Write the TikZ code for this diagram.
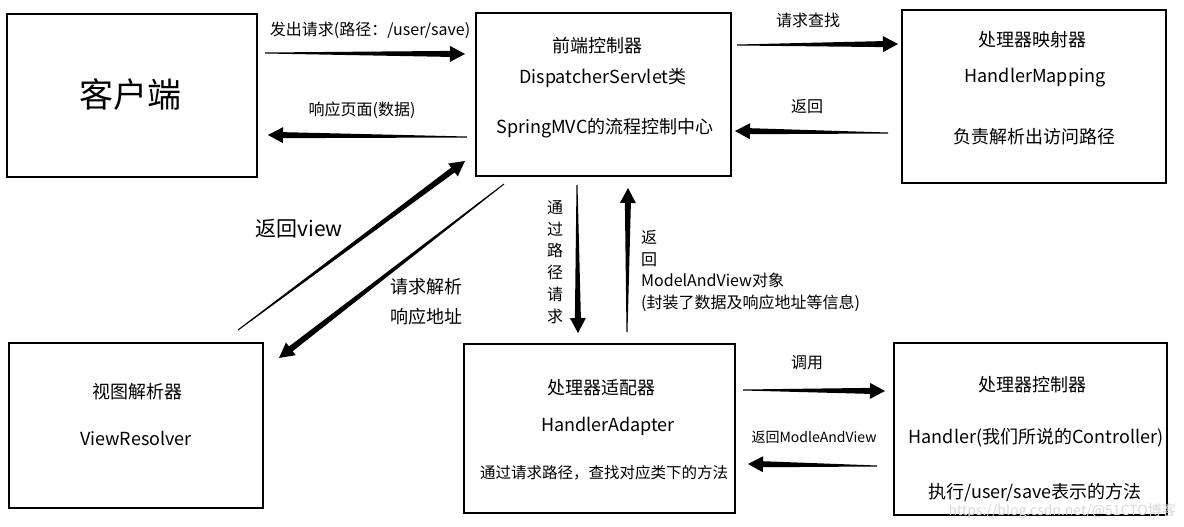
\documentclass[tikz,border=0pt]{standalone}
\usepackage{fontspec}
\setmainfont{Noto Sans CJK SC}
\usetikzlibrary{calc}
\newcommand\tarrow[2]{%
  \path ($(#2)!15pt!(#1)$) coordinate (hb);
  \fill[black] ($(#1)!0.5pt!90:(#2)$) -- ($(hb)!3pt!90:(#2)$) -- ($(hb)!8pt!90:(#2)$) -- (#2)
    -- ($(hb)!8pt!-90:(#2)$) -- ($(hb)!3pt!-90:(#2)$) -- ($(#1)!0.5pt!-90:(#2)$) -- cycle;}
\begin{document}
\begin{tikzpicture}[x=1pt,y=-1pt,
  box/.style={draw, line width=2.6pt, inner sep=0pt},
  lbl/.style={font=\fontsize{16}{20}\selectfont, inner sep=0pt},
  btxt/.style={font=\fontsize{18}{22}\selectfont, inner sep=0pt}]
\useasboundingbox (0,0) rectangle (1184,527);
\fill[white] (0,0) rectangle (1184,527);
% boxes
\node[box, minimum width=250pt, minimum height=163pt] (client) at (132,95.5) {};
\node[box, minimum width=255pt, minimum height=163pt] (front) at (603.5,94.5) {};
\node[box, minimum width=264pt, minimum height=173pt] (mapping) at (1034,96.5) {};
\node[box, minimum width=254pt, minimum height=165pt] (viewres) at (136,425.5) {};
\node[box, minimum width=271pt, minimum height=169pt] (adapter) at (599.5,428.5) {};
\node[box, minimum width=273pt, minimum height=172pt] (handler) at (1030.5,429) {};
% box texts
\node[btxt, font=\fontsize{34}{40}\selectfont] (tclient) at (130,95) {客户端};
\node[btxt] (f1) at (597,46) {前端控制器};
\node[btxt] (f2) at (603,78) {DispatcherServlet类};
\node[btxt] (f3) at (605,128) {SpringMVC的流程控制中心};
\node[btxt] (m1) at (1032,40) {处理器映射器};
\node[btxt] (m2) at (1035,78) {HandlerMapping};
\node[btxt] (m3) at (1034,137) {负责解析出访问路径};
\node[btxt] (v1) at (137,392) {视图解析器};
\node[btxt] (v2) at (136,438) {ViewResolver};
\node[btxt] (d1) at (601,388) {处理器适配器};
\node[btxt] (d2) at (608,426) {HandlerAdapter};
\node[btxt, font=\fontsize{15.5}{18}\selectfont] (d3) at (604,473) {通过请求路径，查找对应类下的方法};
\node[btxt] (h1) at (1032,385) {处理器控制器};
\node[btxt] (h2) at (1036,438) {Handler(我们所说的Controller)};
\node[btxt] (h3) at (1035,492) {执行/user/save表示的方法};
% edge labels
\node[lbl] (l1) at (370,30) {发出请求(路径：/user/save)};
\node[lbl] (l2) at (362,110) {响应页面(数据)};
\node[lbl] (l3) at (808,20) {请求查找};
\node[lbl] (l4) at (807,107) {返回};
\node[lbl, font=\fontsize{21}{24}\selectfont] (l5) at (299,229) {返回view};
\node[btxt, anchor=west] (l6) at (390,287) {请求解析};
\node[btxt, anchor=west] (l7) at (390,317) {响应地址};
\node[lbl, align=center, font=\fontsize{16}{21.7}\selectfont] (l8) at (555,262) {通\\过\\路\\径\\请\\求};
\node[lbl, align=left, anchor=north west, font=\fontsize{16}{21.7}\selectfont] (l9) at (641,230) {返\\回\\ModelAndView对象\\(封装了数据及响应地址等信息)};
\node[lbl] (l10) at (807,363) {调用};
\node[lbl, font=\fontsize{14}{16}\selectfont] (l11) at (814,437) {返回ModleAndView};
\node[font=\fontsize{14}{16}\selectfont, text=gray!30, anchor=east, inner sep=0pt] (wm) at (1176,511) {https://blog.csdn.net/@51CTO博客};
% arrow endpoints
\coordinate (a1s) at (265,53);  \coordinate (a1e) at (465,54);
\coordinate (a2s) at (467,137); \coordinate (a2e) at (268,135);
\coordinate (a3s) at (737,45);  \coordinate (a3e) at (898,44);
\coordinate (a4s) at (888,133); \coordinate (a4e) at (735,131);
\coordinate (a5s) at (577,185); \coordinate (a5e) at (578,333);
\coordinate (a6s) at (627,332); \coordinate (a6e) at (628,188);
\coordinate (a7s) at (743,390); \coordinate (a7e) at (885,391);
\coordinate (a8s) at (877,466); \coordinate (a8e) at (748,464);
\coordinate (a9s) at (238,330); \coordinate (a9e) at (465,161);
\coordinate (a10s) at (504,184); \coordinate (a10e) at (279,358);
\tarrow{a1s}{a1e}
\tarrow{a2s}{a2e}
\tarrow{a3s}{a3e}
\tarrow{a4s}{a4e}
\tarrow{a5s}{a5e}
\tarrow{a6s}{a6e}
\tarrow{a7s}{a7e}
\tarrow{a8s}{a8e}
\tarrow{a9s}{a9e}
\tarrow{a10s}{a10e}
\end{tikzpicture}
\end{document}
